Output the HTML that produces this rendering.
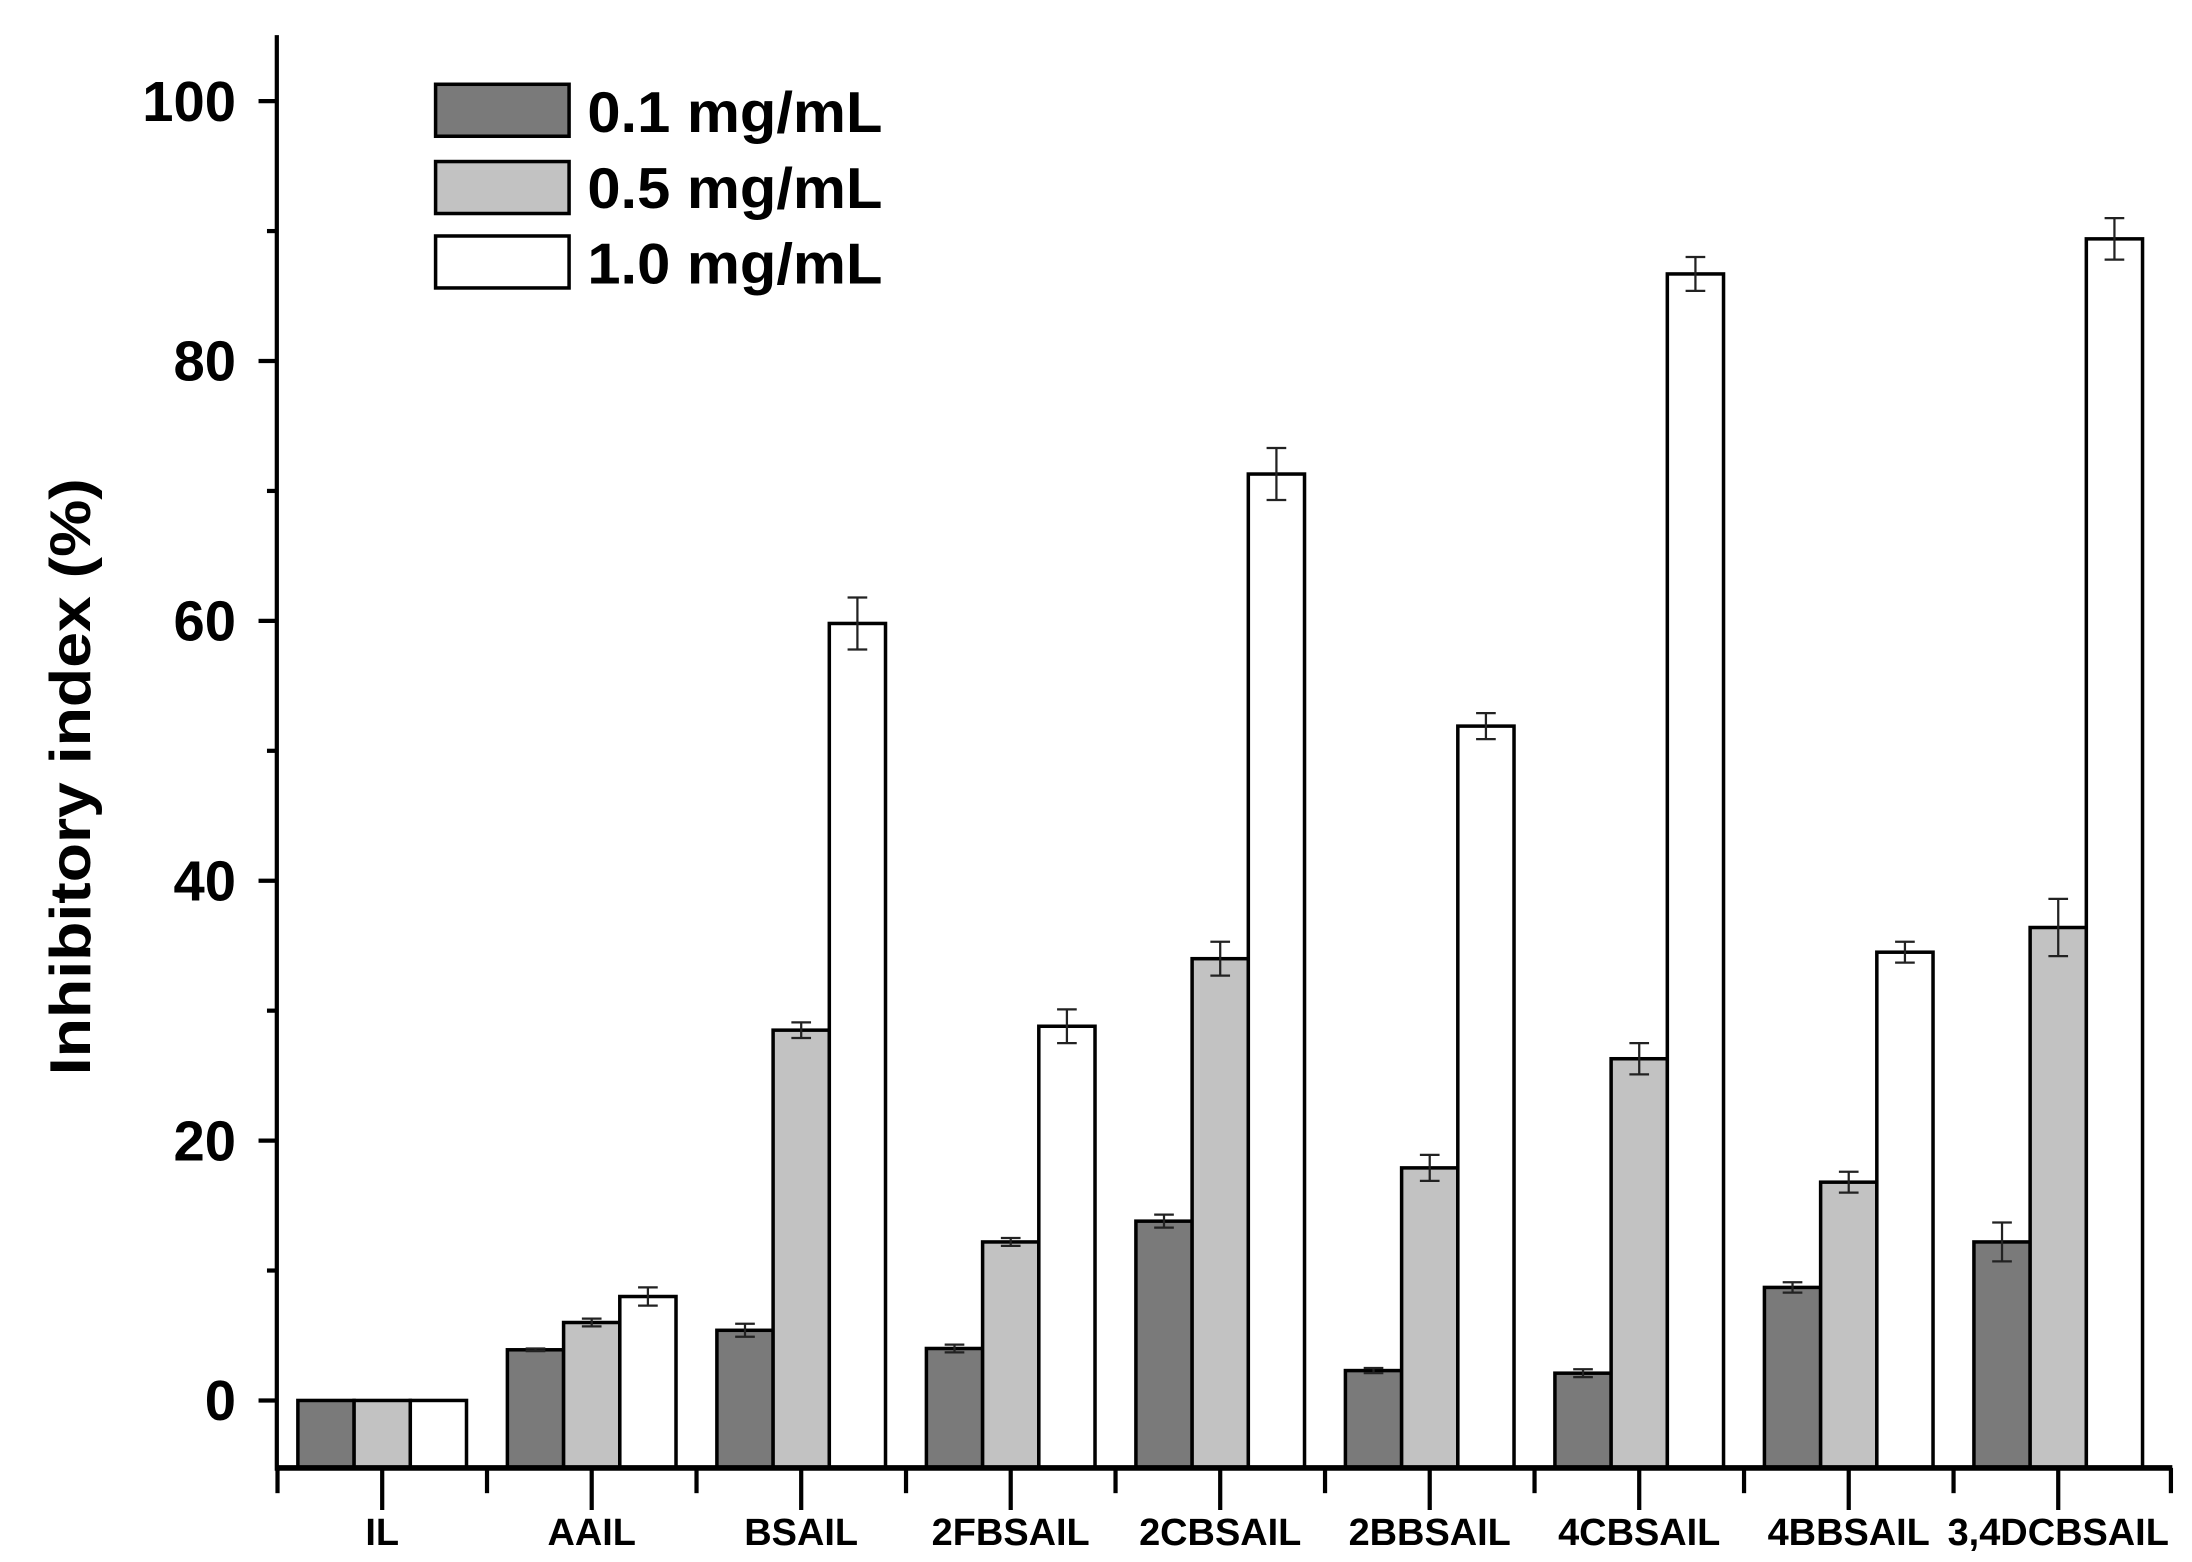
<!DOCTYPE html>
<html><head><meta charset="utf-8"><style>
html,body{margin:0;padding:0;background:#fff}
svg{display:block}
text{font-family:"Liberation Sans",Arial,sans-serif;font-weight:bold;fill:#000}
</style></head><body>
<svg width="2192" height="1562" viewBox="0 0 1560 1112" xmlns="http://www.w3.org/2000/svg" preserveAspectRatio="none">
<rect width="1560" height="1112" fill="#fff"/>
<g id="bars" stroke="#000" stroke-width="2.5"></g>
<g id="err" stroke="#222" stroke-width="1.6"></g>
<line x1="197" y1="25" x2="197" y2="1047" stroke="#000" stroke-width="3"/>
<line x1="196" y1="1045" x2="1546" y2="1045" stroke="#000" stroke-width="4"/>
<g id="ticks" stroke="#000" stroke-width="3"></g>
<g id="labels" font-size="40" text-anchor="end"></g>
<g id="xl" font-size="27" text-anchor="middle"></g>
<text transform="translate(64,553) rotate(-90)" font-size="41" text-anchor="middle" textLength="425" lengthAdjust="spacingAndGlyphs">Inhibitory index (%)</text>
<rect x="310" y="60" width="95" height="37" fill="#7a7a7a" stroke="#000" stroke-width="2.5"/>
<rect x="310" y="115" width="95" height="37" fill="#c2c2c2" stroke="#000" stroke-width="2.5"/>
<rect x="310" y="168" width="95" height="37" fill="#fff" stroke="#000" stroke-width="2.5"/>
<text x="418" y="94" font-size="41" textLength="210" lengthAdjust="spacingAndGlyphs">0.1 mg/mL</text>
<text x="418" y="148" font-size="41" textLength="210" lengthAdjust="spacingAndGlyphs">0.5 mg/mL</text>
<text x="418" y="202" font-size="41" textLength="210" lengthAdjust="spacingAndGlyphs">1.0 mg/mL</text>
<script>
var ns="http://www.w3.org/2000/svg";
function el(p,t,a){var e=document.createElementNS(ns,t);for(var k in a)e.setAttribute(k,a[k]);document.getElementById(p).appendChild(e);return e;}
function Y(v){return 997-v*9.25;}
var names=["IL","AAIL","BSAIL","2FBSAIL","2CBSAIL","2BBSAIL","4CBSAIL","4BBSAIL","3,4DCBSAIL"];
var d=[[[0,0],[0,0],[0,0]],[[3.9,0.1],[6.0,0.3],[8.0,0.7]],[[5.4,0.5],[28.5,0.6],[59.8,2]],[[4.0,0.3],[12.2,0.3],[28.8,1.3]],[[13.8,0.5],[34.0,1.3],[71.3,2]],[[2.3,0.2],[17.9,1.0],[51.9,1.0]],[[2.1,0.3],[26.3,1.2],[86.7,1.3]],[[8.7,0.4],[16.8,0.8],[34.5,0.8]],[[12.2,1.5],[36.4,2.2],[89.4,1.6]]];
var cols=["#7a7a7a","#c2c2c2","#fff"];
for(var g=0;g<9;g++){
 var c=272+g*149.1;
 for(var i=0;i<3;i++){
  var x=c-60+i*40, v=d[g][i][0], e=d[g][i][1], y=Y(v);
  el("bars","rect",{x:x,y:y,width:40,height:1045-y,fill:cols[i]});
  if(e>0){var xm=x+20;
   el("err","line",{x1:xm,y1:Y(v+e),x2:xm,y2:Y(v-e)});
   el("err","line",{x1:xm-7,y1:Y(v+e),x2:xm+7,y2:Y(v+e)});
   el("err","line",{x1:xm-7,y1:Y(v-e),x2:xm+7,y2:Y(v-e)});}
 }
 el("ticks","line",{x1:c,y1:1045,x2:c,y2:1075});
 el("ticks","line",{x1:c-74.5,y1:1045,x2:c-74.5,y2:1063});
 var t=el("xl","text",{x:c,y:1100});t.textContent=names[g];
}
el("ticks","line",{x1:1545,y1:1045,x2:1545,y2:1063});
for(var v=0;v<=100;v+=10){
 var maj=v%20==0;
 el("ticks","line",{x1:maj?184:190,y1:Y(v),x2:197,y2:Y(v)});
 if(maj){var t=el("labels","text",{x:168,y:Y(v)+14});t.textContent=v;}
}
</script>
</svg>
</body></html>
